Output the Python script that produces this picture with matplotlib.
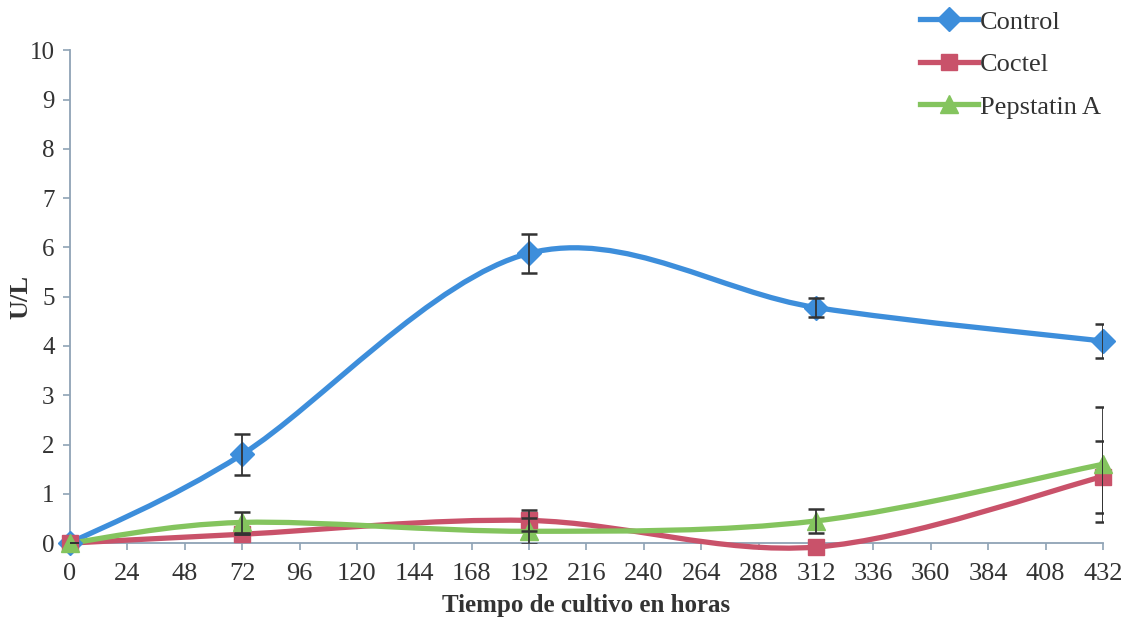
import matplotlib
matplotlib.use("Agg")
import matplotlib.pyplot as plt
from matplotlib.path import Path
from matplotlib.patches import PathPatch
from matplotlib.lines import Line2D
import numpy as np

plt.rcParams["font.family"] = ["Liberation Serif", "DejaVu Serif"]

hours = [0, 72, 192, 312, 432]

control = [0.0, 1.80, 5.88, 4.78, 4.10]
control_err = [0.0, 0.41, 0.40, 0.19, 0.34]

coctel = [0.0, 0.18, 0.46, -0.08, 1.35]
coctel_err = [0.0, 0.0, 0.22, 0.0, 0.73]

pepstatin = [0.0, 0.42, 0.24, 0.45, 1.60]
pepstatin_err = [0.0, 0.22, 0.26, 0.25, 1.17]

series = [
    ("Control", control, control_err, "#3d8edb", "D", 12),
    ("Coctel", coctel, coctel_err, "#c9526a", "s", 12),
    ("Pepstatin A", pepstatin, pepstatin_err, "#84c45e", "^", 13),
]

xticks = list(range(0, 433, 24))
yticks = list(range(0, 11))


def smooth_path(xs, ys):
    # catmull-rom style bezier smoothing, like spreadsheet "smoothed line"
    pts = np.column_stack([xs, ys]).astype(float)
    n = len(pts)
    verts = [pts[0]]
    codes = [Path.MOVETO]
    for i in range(n - 1):
        p0 = pts[max(i - 1, 0)]
        p1 = pts[i]
        p2 = pts[i + 1]
        p3 = pts[min(i + 2, n - 1)]
        c1 = p1 + (p2 - p0) / 6.0
        c2 = p2 - (p3 - p1) / 6.0
        verts += [c1, c2, p2]
        codes += [Path.CURVE4] * 3
    return Path(verts, codes)


fig = plt.figure(figsize=(11.25, 6.2), dpi=100)
ax = fig.add_axes([0.0622, 0.124, 0.9182, 0.795])

handles = []
for name, vals, err, color, marker, ms in series:
    patch = PathPatch(smooth_path(hours, vals), facecolor="none",
                      edgecolor=color, lw=3.8, zorder=3, capstyle="round",
                      clip_on=False)
    ax.add_patch(patch)
    ax.plot(hours, vals, linestyle="none", marker=marker, ms=ms,
            color=color, zorder=4, clip_on=False)
    ax.errorbar(hours, vals, yerr=err, fmt="none", ecolor="#333333",
                elinewidth=1.3, capsize=6, capthick=1.8, zorder=5)
    handles.append(Line2D([0], [0], color=color, lw=3.8, marker=marker,
                          ms=ms, label=name))

spine_color = "#8fa3b5"
ax.set_xlim(0, 432)
ax.set_ylim(0, 10)
ax.set_xticks(xticks)
ax.set_yticks(yticks)
ax.tick_params(axis="both", direction="out", length=5, color=spine_color,
               labelcolor="#333333", width=1.2)
ax.tick_params(axis="x", pad=9, labelsize=19)
ax.tick_params(axis="y", pad=6, labelsize=18)
for side in ("top", "right"):
    ax.spines[side].set_visible(False)
for side in ("left", "bottom"):
    ax.spines[side].set_color(spine_color)
    ax.spines[side].set_linewidth(1.3)

ax.set_xlabel("Tiempo de cultivo en horas", fontsize=18, fontweight="bold",
              color="#333333", labelpad=7)
ax.set_ylabel("U/L", fontsize=19, fontweight="bold", color="#333333")
ax.yaxis.set_label_coords(-0.036, 0.5)

fig.legend(handles=handles, loc="upper left", bbox_to_anchor=(0.797, 1.022),
           frameon=False, fontsize=19, handlelength=2.2, handletextpad=0.05,
           labelspacing=0.72, labelcolor="#333333")

fig.savefig("out.png", dpi=100, facecolor="white")
